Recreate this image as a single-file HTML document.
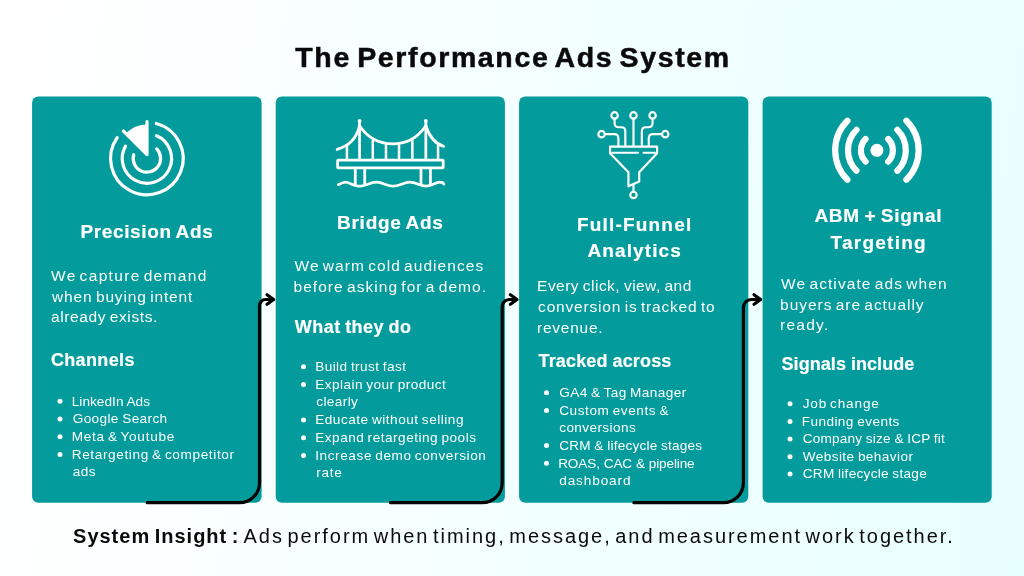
<!DOCTYPE html>
<html lang="en"><head><meta charset="utf-8"><title>The Performance Ads System</title>
<style>
html,body{margin:0;padding:0}
body{width:1024px;height:576px;overflow:hidden;font-family:"Liberation Sans",sans-serif;background:#fff}
#stage{position:relative;width:1024px;height:576px;overflow:hidden;background:linear-gradient(97deg,#ffffff 3%,#e8ffff 100%)}
.card{position:absolute;top:96.5px;height:406px;background:#039b9b;border-radius:7px}
#txt{position:absolute;left:0;top:0;width:1024px;height:576px;will-change:transform}
svg.ov{position:absolute;left:0;top:0;width:1024px;height:576px}
h1.t{-webkit-text-stroke:0.5px #0a0a0a}
h2 .t,h3.t{-webkit-text-stroke:0.2px #fff}
.hd{margin:0;padding:0;list-style:none;font-size:0;font-weight:inherit}
li{margin:0;padding:0;list-style:none}
.t{position:absolute;margin:0;padding:0;line-height:1;white-space:nowrap;font-family:"Liberation Sans",sans-serif}
</style></head><body>
<div id="stage">

<svg class="ov" viewBox="0 0 1024 576">
<g fill="#039b9b"><rect x="32.1" y="96.5" width="229.5" height="406.3" rx="6.2"/><rect x="275.7" y="96.5" width="229.2" height="406.3" rx="6.2"/><rect x="519.1" y="96.5" width="229.2" height="406.3" rx="6.2"/><rect x="762.6" y="96.5" width="229.1" height="406.3" rx="6.2"/></g>
<g fill="none" stroke="#fff" stroke-width="3.2" stroke-linecap="round" stroke-linejoin="round">
<path d="M156.30,123.44A36.3,36.3 0 1 1 117.16,137.68"/>
<path d="M156.55,135.76A24.7,24.7 0 1 1 125.51,146.15"/>
<path d="M156.75,148.98A13.7,13.7 0 1 1 133.73,154.72"/>
<path d="M147.0,121.6L147.0,154.6L123.40,131.00"/>
<path fill="#fff" stroke="none" d="M147.0,154.6L147.0,124.6A30,30 0 0 0 125.80,133.40Z"/>
</g>
<g transform="translate(330,113) scale(0.13889)" fill="none" stroke="#fff" stroke-width="20" stroke-linecap="round" stroke-linejoin="round">
<circle cx="213" cy="58" r="14" fill="#fff" stroke="none"/><circle cx="690" cy="58" r="14" fill="#fff" stroke="none"/>
<path d="M213,60V330M690,60V330"/>
<rect x="55" y="340" width="760" height="55" rx="4"/>
<path d="M182,405V515M250,405V515M655,405V515M723,405V515"/>
<path d="M60,516C80,505 95,498 115,498S175,527 215,527S290,498 335,498S410,527 455,527S530,498 575,498S650,527 690,527S760,498 790,498S812,505 820,512"/>
<path d="M213,92Q300,222 452,222T690,92"/>
<path d="M213,92Q182,225 52,262M690,92Q728,212 818,240" stroke-width="21"/>
<path d="M122,238V330M308,200V330M403,226V330M497,226V330M593,200V330M778,232V330" stroke-width="18"/>
</g>
<g transform="translate(588,105) scale(0.17361)" fill="none" stroke="#fff" stroke-width="12.5" stroke-linecap="round" stroke-linejoin="round">
<circle cx="153" cy="60" r="18.5"/><circle cx="262" cy="60" r="18.5"/><circle cx="372" cy="60" r="18.5"/>
<circle cx="78" cy="168" r="18.5"/><circle cx="445" cy="168" r="18.5"/><circle cx="262" cy="518" r="18.5"/>
<path d="M262,80V235"/>
<path d="M153,80V103Q153,128 178,128H192Q215,128 215,152V235"/>
<path d="M372,80V103Q372,128 347,128H333Q310,128 310,152V235"/>
<path d="M98,168H150Q175,168 175,193V235"/>
<path d="M425,168H375Q350,168 350,193V235"/>
<path d="M127,240H398V278L295,388V440L233,468V388L127,278Z"/>
<path d="M140,275H288M320,275H385"/>
<path d="M262,458V498"/>
</g>
<g fill="none" stroke="#fff" stroke-width="6.2" stroke-linecap="round">
<circle cx="876.9" cy="150.3" r="6.5" fill="#fff" stroke="none"/>
<path d="M865.59,138.99A16,16 0 0 0 865.59,161.61M888.21,138.99A16,16 0 0 1 888.21,161.61"/><path d="M856.46,129.86A28.9,28.9 0 0 0 856.46,170.74M897.34,129.86A28.9,28.9 0 0 1 897.34,170.74"/><path d="M847.41,120.81A41.7,41.7 0 0 0 847.41,179.79M906.39,120.81A41.7,41.7 0 0 1 906.39,179.79"/>
</g>
<g fill="#fff"><circle cx="60" cy="401.3" r="2.5"/><circle cx="60" cy="419.0" r="2.5"/><circle cx="60" cy="436.8" r="2.5"/><circle cx="60" cy="454.5" r="2.5"/><circle cx="303.5" cy="366.8" r="2.5"/><circle cx="303.5" cy="384.5" r="2.5"/><circle cx="303.5" cy="419.9" r="2.5"/><circle cx="303.5" cy="437.7" r="2.5"/><circle cx="303.5" cy="455.4" r="2.5"/><circle cx="546.5" cy="392.8" r="2.5"/><circle cx="546.5" cy="410.5" r="2.5"/><circle cx="546.5" cy="445.6" r="2.5"/><circle cx="546.5" cy="463.3" r="2.5"/><circle cx="790" cy="403.7" r="2.5"/><circle cx="790" cy="421.4" r="2.5"/><circle cx="790" cy="439.1" r="2.5"/><circle cx="790" cy="456.8" r="2.5"/><circle cx="790" cy="474.0" r="2.5"/></g>
<g fill="none" stroke="#000" stroke-width="3.2" stroke-linecap="round" stroke-linejoin="round"><path d="M147.2,502.7H239.5A20,20 0 0 0 259.5,482.7V305.5A6,6 0 0 1 265.5,299.5H273.0"/><path d="M267.0,294.8L273.6,299.5L267.0,304.2"/><path d="M390.6,502.7H482.2A20,20 0 0 0 502.2,482.7V306.5A7,7 0 0 1 509.2,299.5H516.4"/><path d="M510.4,294.8L517.0,299.5L510.4,304.2"/><path d="M633.9,502.7H723.4A20,20 0 0 0 743.4,482.7V307.5A8,8 0 0 1 751.4,299.5H760.0"/><path d="M754.0,294.8L760.6,299.5L754.0,304.2"/></g>
</svg>
<div id="txt">
<h1 class="t" style="left:295.3px;top:43px;font-size:28.5px;font-weight:700;color:#0a0a0a;letter-spacing:1.634px;word-spacing:-3.268px">The Performance Ads System</h1>
<section class="col">
<h2 class="hd"><span class="t" style="left:80.5px;top:222px;font-size:19px;font-weight:700;color:#ffffff;letter-spacing:0.626px;word-spacing:-1.251px">Precision Ads</span></h2>
<p class="hd"><span class="t" style="left:51.0px;top:268px;font-size:15.5px;font-weight:400;color:#ffffff;letter-spacing:1.335px;word-spacing:-2.671px">We capture demand</span><span class="t" style="left:52.0px;top:289px;font-size:15.5px;font-weight:400;color:#ffffff;letter-spacing:0.85px;word-spacing:-1.699px">when buying intent</span><span class="t" style="left:51.0px;top:309px;font-size:15.5px;font-weight:400;color:#ffffff;letter-spacing:0.603px;word-spacing:-1.206px">already exists.</span></p>
<h3 class="t" style="left:50.9px;top:351px;font-size:18px;font-weight:700;color:#ffffff;letter-spacing:0.37px;word-spacing:-0.741px">Channels</h3>
<ul class="hd">
<li><span class="t" style="left:71.7px;top:395px;font-size:13.6px;font-weight:400;color:#ffffff;letter-spacing:0.056px;word-spacing:-0.111px">LinkedIn Ads</span></li>
<li><span class="t" style="left:72.7px;top:412px;font-size:13.6px;font-weight:400;color:#ffffff;letter-spacing:0.378px;word-spacing:-0.756px">Google Search</span></li>
<li><span class="t" style="left:71.7px;top:430px;font-size:13.6px;font-weight:400;color:#ffffff;letter-spacing:0.736px;word-spacing:-1.472px">Meta &amp; Youtube</span></li>
<li><span class="t" style="left:71.7px;top:448px;font-size:13.6px;font-weight:400;color:#ffffff;letter-spacing:0.63px;word-spacing:-1.26px">Retargeting &amp; competitor</span><span class="t" style="left:72.7px;top:465px;font-size:13.6px;font-weight:400;color:#ffffff;letter-spacing:0.49px;word-spacing:-0.98px">ads</span></li>
</ul>
</section>
<section class="col">
<h2 class="hd"><span class="t" style="left:337.0px;top:213px;font-size:19px;font-weight:700;color:#ffffff;letter-spacing:0.746px;word-spacing:-1.492px">Bridge Ads</span></h2>
<p class="hd"><span class="t" style="left:294.5px;top:258px;font-size:15.5px;font-weight:400;color:#ffffff;letter-spacing:1.052px;word-spacing:-2.103px">We warm cold audiences</span><span class="t" style="left:293.5px;top:279px;font-size:15.5px;font-weight:400;color:#ffffff;letter-spacing:1.046px;word-spacing:-2.092px">before asking for a demo.</span></p>
<h3 class="t" style="left:294.8px;top:318px;font-size:18px;font-weight:700;color:#ffffff;letter-spacing:0.458px;word-spacing:-0.915px">What they do</h3>
<ul class="hd">
<li><span class="t" style="left:315.2px;top:360px;font-size:13.6px;font-weight:400;color:#ffffff;letter-spacing:0.423px;word-spacing:-0.845px">Build trust fast</span></li>
<li><span class="t" style="left:315.2px;top:378px;font-size:13.6px;font-weight:400;color:#ffffff;letter-spacing:0.45px;word-spacing:-0.9px">Explain your product</span><span class="t" style="left:316.2px;top:395px;font-size:13.6px;font-weight:400;color:#ffffff;letter-spacing:0.403px;word-spacing:-0.805px">clearly</span></li>
<li><span class="t" style="left:315.2px;top:413px;font-size:13.6px;font-weight:400;color:#ffffff;letter-spacing:0.512px;word-spacing:-1.024px">Educate without selling</span></li>
<li><span class="t" style="left:315.2px;top:431px;font-size:13.6px;font-weight:400;color:#ffffff;letter-spacing:0.508px;word-spacing:-1.016px">Expand retargeting pools</span></li>
<li><span class="t" style="left:315.2px;top:449px;font-size:13.6px;font-weight:400;color:#ffffff;letter-spacing:0.591px;word-spacing:-1.182px">Increase demo conversion</span><span class="t" style="left:316.2px;top:466px;font-size:13.6px;font-weight:400;color:#ffffff;letter-spacing:0.745px;word-spacing:-1.491px">rate</span></li>
</ul>
</section>
<section class="col">
<h2 class="hd"><span class="t" style="left:576.9px;top:215px;font-size:19px;font-weight:700;color:#ffffff;letter-spacing:1.191px;word-spacing:-2.383px">Full-Funnel</span><span class="t" style="left:587.5px;top:241px;font-size:19px;font-weight:700;color:#ffffff;letter-spacing:1.111px;word-spacing:-2.222px">Analytics</span></h2>
<p class="hd"><span class="t" style="left:537.1px;top:278px;font-size:15.5px;font-weight:400;color:#ffffff;letter-spacing:0.461px;word-spacing:-0.922px">Every click, view, and</span><span class="t" style="left:538.1px;top:299px;font-size:15.5px;font-weight:400;color:#ffffff;letter-spacing:0.811px;word-spacing:-1.623px">conversion is tracked to</span><span class="t" style="left:537.1px;top:320px;font-size:15.5px;font-weight:400;color:#ffffff;letter-spacing:0.741px;word-spacing:-1.482px">revenue.</span></p>
<h3 class="t" style="left:538.5px;top:352px;font-size:18px;font-weight:700;color:#ffffff;letter-spacing:0.157px;word-spacing:-0.313px">Tracked across</h3>
<ul class="hd">
<li><span class="t" style="left:559.2px;top:386px;font-size:13.6px;font-weight:400;color:#ffffff;letter-spacing:0.416px;word-spacing:-0.832px">GA4 &amp; Tag Manager</span></li>
<li><span class="t" style="left:559.2px;top:404px;font-size:13.6px;font-weight:400;color:#ffffff;letter-spacing:0.576px;word-spacing:-1.152px">Custom events &amp;</span><span class="t" style="left:559.2px;top:421px;font-size:13.6px;font-weight:400;color:#ffffff;letter-spacing:0.396px;word-spacing:-0.792px">conversions</span></li>
<li><span class="t" style="left:559.2px;top:439px;font-size:13.6px;font-weight:400;color:#ffffff;letter-spacing:0.21px;word-spacing:-0.419px">CRM &amp; lifecycle stages</span></li>
<li><span class="t" style="left:558.2px;top:457px;font-size:13.6px;font-weight:400;color:#ffffff;letter-spacing:-0.138px;word-spacing:0.277px">ROAS, CAC &amp; pipeline</span><span class="t" style="left:559.2px;top:474px;font-size:13.6px;font-weight:400;color:#ffffff;letter-spacing:0.889px;word-spacing:-1.779px">dashboard</span></li>
</ul>
</section>
<section class="col">
<h2 class="hd"><span class="t" style="left:814.4px;top:206px;font-size:19px;font-weight:700;color:#ffffff;letter-spacing:0.735px;word-spacing:-1.47px">ABM + Signal</span><span class="t" style="left:830.5px;top:233px;font-size:19px;font-weight:700;color:#ffffff;letter-spacing:1.257px;word-spacing:-2.515px">Targeting</span></h2>
<p class="hd"><span class="t" style="left:781.1px;top:276px;font-size:15.5px;font-weight:400;color:#ffffff;letter-spacing:1.082px;word-spacing:-2.164px">We activate ads when</span><span class="t" style="left:780.1px;top:297px;font-size:15.5px;font-weight:400;color:#ffffff;letter-spacing:0.954px;word-spacing:-1.908px">buyers are actually</span><span class="t" style="left:780.1px;top:317px;font-size:15.5px;font-weight:400;color:#ffffff;letter-spacing:1.236px;word-spacing:-2.471px">ready.</span></p>
<h3 class="t" style="left:781.5px;top:355px;font-size:18px;font-weight:700;color:#ffffff;letter-spacing:0.065px;word-spacing:-0.13px">Signals include</h3>
<ul class="hd">
<li><span class="t" style="left:802.7px;top:397px;font-size:13.6px;font-weight:400;color:#ffffff;letter-spacing:0.838px;word-spacing:-1.677px">Job change</span></li>
<li><span class="t" style="left:801.7px;top:415px;font-size:13.6px;font-weight:400;color:#ffffff;letter-spacing:0.431px;word-spacing:-0.863px">Funding events</span></li>
<li><span class="t" style="left:802.7px;top:432px;font-size:13.6px;font-weight:400;color:#ffffff;letter-spacing:0.201px;word-spacing:-0.402px">Company size &amp; ICP fit</span></li>
<li><span class="t" style="left:802.7px;top:450px;font-size:13.6px;font-weight:400;color:#ffffff;letter-spacing:0.427px;word-spacing:-0.853px">Website behavior</span></li>
<li><span class="t" style="left:802.7px;top:467px;font-size:13.6px;font-weight:400;color:#ffffff;letter-spacing:0.282px;word-spacing:-0.564px">CRM lifecycle stage</span></li>
</ul>
</section>
<p class="hd"><strong class="t" style="left:73.05px;top:526px;font-size:20px;font-weight:700;color:#0a0a0a;letter-spacing:0.994px;word-spacing:-1.989px">System Insight :</strong><span class="t" style="left:243.55px;top:526px;font-size:20px;font-weight:400;color:#0a0a0a;letter-spacing:1.965px;word-spacing:-3.93px">Ads perform when timing, message, and measurement work together.</span></p>
</div>
</div>
</body></html>
